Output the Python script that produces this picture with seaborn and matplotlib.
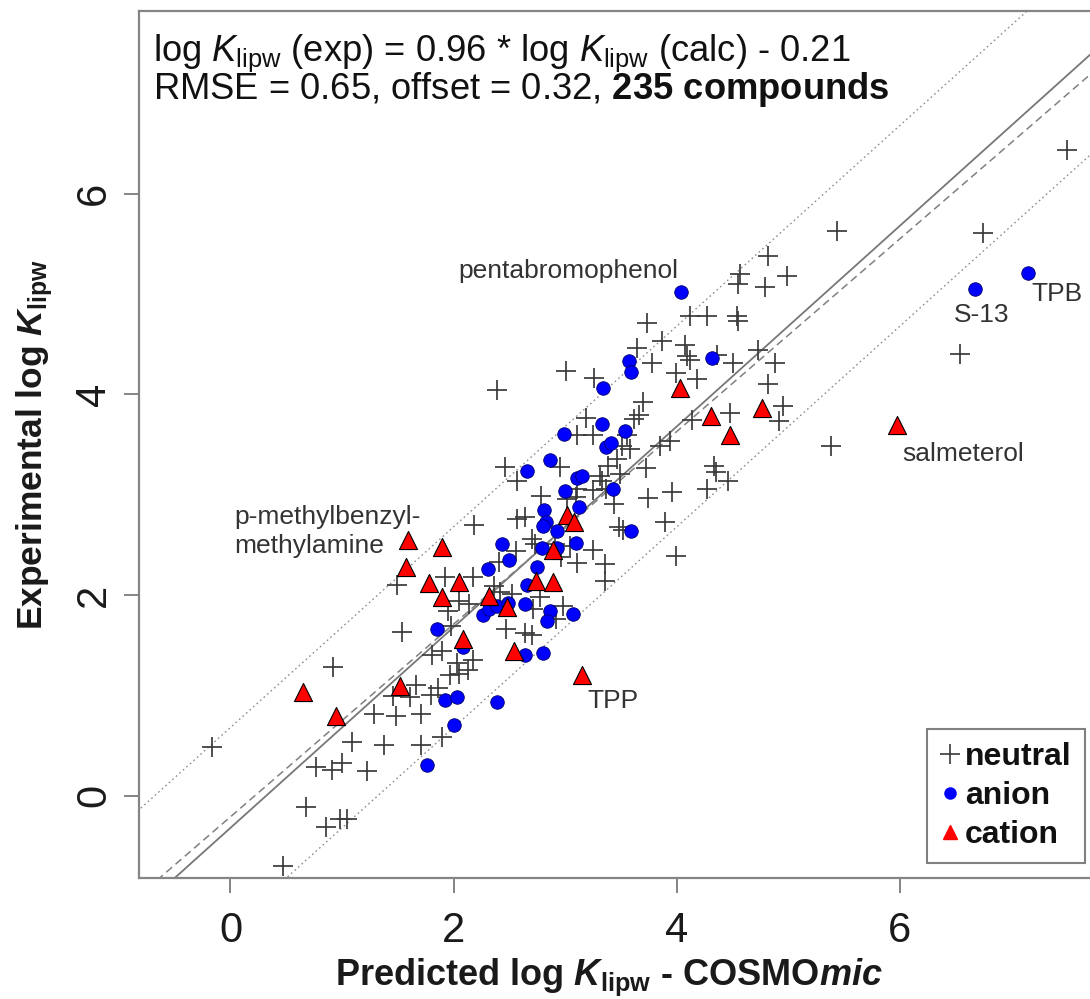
import numpy as np
import pandas as pd
import matplotlib
matplotlib.use("Agg")
import matplotlib.pyplot as plt
import seaborn as sns
from matplotlib.lines import Line2D

# ---------------- data ----------------
neutral_x = [7.50, 6.74, 5.44, 4.82, 4.99, 4.57, 4.55, 4.79, 6.54, 5.38,
             4.12, 4.27, 4.54, 4.55, 3.73, 3.87, 4.07, 4.09, 4.36, 4.50,
             3.78, 4.12, 3.64, 3.26, 3.99, 4.18, 4.73, 4.88, 4.82, 3.01,
             2.39, 3.70, 3.66, 3.62, 4.48, 4.95, 4.92, 4.14, 3.19, 3.25,
             3.11, 3.55, 3.58, 3.51, 3.94, 3.85, 3.38, 3.46, 2.95, 2.46,
             3.72, 4.33, 4.35, 4.46, 4.27, 3.96, 3.74, 3.44, 3.31, 3.25,
             3.49, 3.37, 3.33, 2.57, 2.78, 3.02, 3.10, 3.11, 3.89, 3.48,
             3.52, 3.99, 3.36, 3.25, 3.11, 2.96, 3.36, 2.18, 2.57, 2.64,
             2.70, 2.73, 2.91, 3.04, 2.56, 2.41, 2.17, 2.36, 2.42, 1.92,
             2.05, 2.14, 1.95, 1.98, 1.54, 2.47, 2.64, 2.52, 2.77, 2.71,
             2.98, 2.92, 2.70, 1.49, 1.81, 1.90, 2.17, 2.03, 1.97, 2.05,
             2.13, 1.66, 1.86, 1.80, 1.46, 1.61, 1.29, 1.48, 1.71, 0.92,
             1.09, 1.38, 1.71, 1.90, 0.77, 0.91, 1.00, 1.22, -0.17, 0.68,
             0.86, 0.98, 1.04, 0.47]
neutral_y = [6.43, 5.61, 5.63, 5.38, 5.18, 5.20, 5.10, 5.07, 4.40, 3.49,
             4.78, 4.78, 4.78, 4.73, 4.71, 4.53, 4.49, 4.38, 4.39, 4.31,
             4.31, 4.34, 4.46, 4.16, 4.21, 4.15, 4.44, 4.31, 4.10, 4.23,
             4.04, 3.92, 3.79, 3.75, 3.81, 3.88, 3.73, 3.74, 3.76, 3.59,
             3.59, 3.59, 3.46, 3.49, 3.53, 3.49, 3.29, 3.36, 3.28, 3.28,
             3.27, 3.29, 3.23, 3.14, 3.06, 3.03, 2.97, 2.91, 3.19, 3.05,
             3.21, 3.06, 3.14, 3.14, 2.99, 2.96, 2.98, 3.06, 2.73, 2.68,
             2.65, 2.39, 2.31, 2.45, 2.32, 2.38, 2.14, 2.70, 2.76, 2.78,
             2.56, 2.51, 2.51, 2.49, 2.44, 2.33, 2.18, 2.09, 2.03, 2.18,
             1.94, 1.91, 1.84, 1.69, 1.63, 1.66, 1.62, 2.01, 1.98, 1.86,
             1.89, 1.76, 1.60, 2.10, 1.40, 1.44, 1.35, 1.32, 1.20, 1.21,
             1.25, 1.10, 1.07, 1.00, 0.99, 0.98, 0.81, 0.79, 0.81, 1.28,
             0.54, 0.51, 0.51, 0.59, 0.29, 0.26, 0.33, 0.25, 0.49, -0.11,
             -0.31, -0.23, -0.23, -0.70]

anion_x = [4.04, 6.67, 7.15, 4.32, 3.57, 3.59, 3.34, 3.33, 3.54, 2.99,
           3.37, 3.41, 2.86, 2.66, 3.11, 3.15, 3.00, 3.43, 3.12, 2.81,
           2.83, 2.80, 2.93, 3.59, 2.43, 2.79, 2.93, 3.10, 2.50, 2.31,
           2.75, 2.66, 2.26, 2.32, 2.39, 2.49, 2.64, 2.86, 2.84, 3.07,
           1.85, 2.08, 2.64, 2.80, 1.92, 2.03, 2.39, 2.00, 1.76]
anion_y = [5.02, 5.05, 5.21, 4.36, 4.33, 4.22, 4.06, 3.70, 3.63, 3.60,
           3.48, 3.51, 3.35, 3.24, 3.17, 3.19, 3.04, 3.06, 2.88, 2.85,
           2.73, 2.69, 2.64, 2.64, 2.51, 2.47, 2.47, 2.52, 2.35, 2.26,
           2.28, 2.10, 1.80, 1.86, 1.89, 1.92, 1.91, 1.84, 1.74, 1.81,
           1.66, 1.48, 1.40, 1.42, 0.95, 0.98, 0.93, 0.70, 0.31]

cation_x = [0.65, 0.95, 1.52, 1.59, 1.57, 1.90, 1.78, 1.90, 2.05, 2.08,
            2.32, 2.48, 2.54, 2.74, 2.89, 2.89, 3.02, 3.08, 3.15, 4.03,
            4.31, 4.48, 4.76, 5.97]
cation_y = [1.03, 0.79, 1.09, 2.55, 2.28, 2.48, 2.12, 1.98, 2.13, 1.56,
            1.99, 1.88, 1.44, 2.14, 2.13, 2.45, 2.80, 2.73, 1.20, 4.06,
            3.78, 3.59, 3.86, 3.69]

fit_slope = 0.96
fit_intercept = -0.21
offset = 0.32

tick_values = [0, 2, 4, 6]
legend_labels = ["neutral", "anion", "cation"]

ann_text = ["pentabromophenol", "S-13", "TPB", "salmeterol", "TPP"]
ann_x = [3.03, 6.73, 7.41, 6.57, 3.43]
ann_y = [5.23, 4.79, 5.00, 3.41, 0.94]

# ---------------- style ----------------
plt.rcParams["font.family"] = ["Liberation Sans", "DejaVu Sans"]
plt.rcParams["mathtext.fontset"] = "custom"
plt.rcParams["mathtext.rm"] = "Liberation Sans"
plt.rcParams["mathtext.it"] = "Liberation Sans:italic"
plt.rcParams["mathtext.bf"] = "Liberation Sans:bold"
plt.rcParams["mathtext.bfit"] = "Liberation Sans:bold:italic"

txt_col = "#1a1a1a"
axis_col = "#858585"

fig = plt.figure(figsize=(10.90, 9.99), dpi=100)
ax = fig.add_axes([139 / 1090, 121 / 999, 964 / 1090, 867 / 999])

# reference lines
xs = np.array([-2.0, 10.0])
ax.plot(xs, xs - offset, color="#777777", lw=1.3, zorder=1)
ax.plot(xs, fit_slope * xs + fit_intercept, color="#808080", lw=1.1,
        ls=(0, (5, 3)), zorder=1)
ax.plot(xs, xs - offset + 1, color="#8f8f8f", lw=1.0, ls=(0, (1.2, 2.2)), zorder=1)
ax.plot(xs, xs - offset - 1, color="#8f8f8f", lw=1.0, ls=(0, (1.2, 2.2)), zorder=1)

# points
df_n = pd.DataFrame({"x": neutral_x, "y": neutral_y})
df_a = pd.DataFrame({"x": anion_x, "y": anion_y})
df_c = pd.DataFrame({"x": cation_x, "y": cation_y})

sns.scatterplot(data=df_n, x="x", y="y", marker="+", s=210, color="#3a3a3a",
                linewidth=1.25, ax=ax, zorder=3, legend=False)
sns.scatterplot(data=df_a, x="x", y="y", marker="o", s=95, color="#0000ff",
                edgecolor="#00006a", linewidth=0.6, ax=ax, zorder=4, legend=False)
sns.scatterplot(data=df_c, x="x", y="y", marker="^", s=170, color="#ff0000",
                edgecolor="#000000", linewidth=0.8, ax=ax, zorder=5, legend=False)

ax.set_xlim(-0.82, 7.82)
ax.set_ylim(-0.82, 7.82)

# annotations
for t, x, y in zip(ann_text, ann_x, ann_y):
    ax.text(x, y, t, ha="center", va="center", fontsize=19, color="#333333", zorder=6)
ax.text(0.03, 2.78, "p-methylbenzyl-", ha="left", va="center", fontsize=19,
        color="#333333", zorder=6)
ax.text(0.03, 2.49, "methylamine", ha="left", va="center", fontsize=19,
        color="#333333", zorder=6)

# equation text
ax.text(0.0145, 0.942, r"log $K_{\mathrm{lipw}}$ (exp) = 0.96 * log $K_{\mathrm{lipw}}$ (calc) - 0.21",
        transform=ax.transAxes, ha="left", va="baseline", fontsize=26.2, color="#111111")
ax.text(0.0145, 0.898, r"RMSE = 0.65, offset = 0.32, $\mathbf{235\ compounds}$",
        transform=ax.transAxes, ha="left", va="baseline", fontsize=26.2, color="#111111")

# axes styling
for sp in ax.spines.values():
    sp.set_color(axis_col)
    sp.set_linewidth(1.6)
ax.set_xticks(tick_values)
ax.set_yticks(tick_values)
ax.set_xticklabels([str(v) for v in tick_values])
ax.set_yticklabels([str(v) for v in tick_values], rotation=90, va="center")
ax.tick_params(axis="both", direction="out", length=11, width=1.4, color=axis_col,
               labelsize=30, labelcolor=txt_col)
ax.tick_params(axis="x", pad=13)
ax.tick_params(axis="y", pad=7)

ax.set_xlabel(r"Predicted log $\mathbfit{K}_{\mathbf{lipw}}$ - COSMO$\mathbfit{mic}$",
              fontsize=26, fontweight="bold", color=txt_col)
ax.xaxis.set_label_coords((609 - 139) / 964, (878 - 957) / 867)
ax.set_ylabel(r"Experimental log $\mathbfit{K}_{\mathbf{lipw}}$",
              fontsize=25.5, fontweight="bold", color=txt_col, labelpad=14)

# legend
handles = [
    Line2D([], [], marker="+", color="#3a3a3a", ls="none", markersize=14, mew=1.2),
    Line2D([], [], marker="o", color="#0000ff", ls="none", markersize=8),
    Line2D([], [], marker="^", color="#ff0000", ls="none", markersize=10),
]
leg = ax.legend(handles, legend_labels, loc="lower right",
                bbox_to_anchor=(0.981, 0.017), frameon=True, fancybox=False,
                edgecolor="#808080", framealpha=1.0,
                prop={"weight": "bold", "size": 23},
                handlelength=0.6, handletextpad=0.15, labelspacing=0.28,
                borderpad=0.42, borderaxespad=0)
leg.get_frame().set_linewidth(1.5)
for t in leg.get_texts():
    t.set_color("#111111")

fig.savefig("out.png", dpi=100, facecolor="white")
